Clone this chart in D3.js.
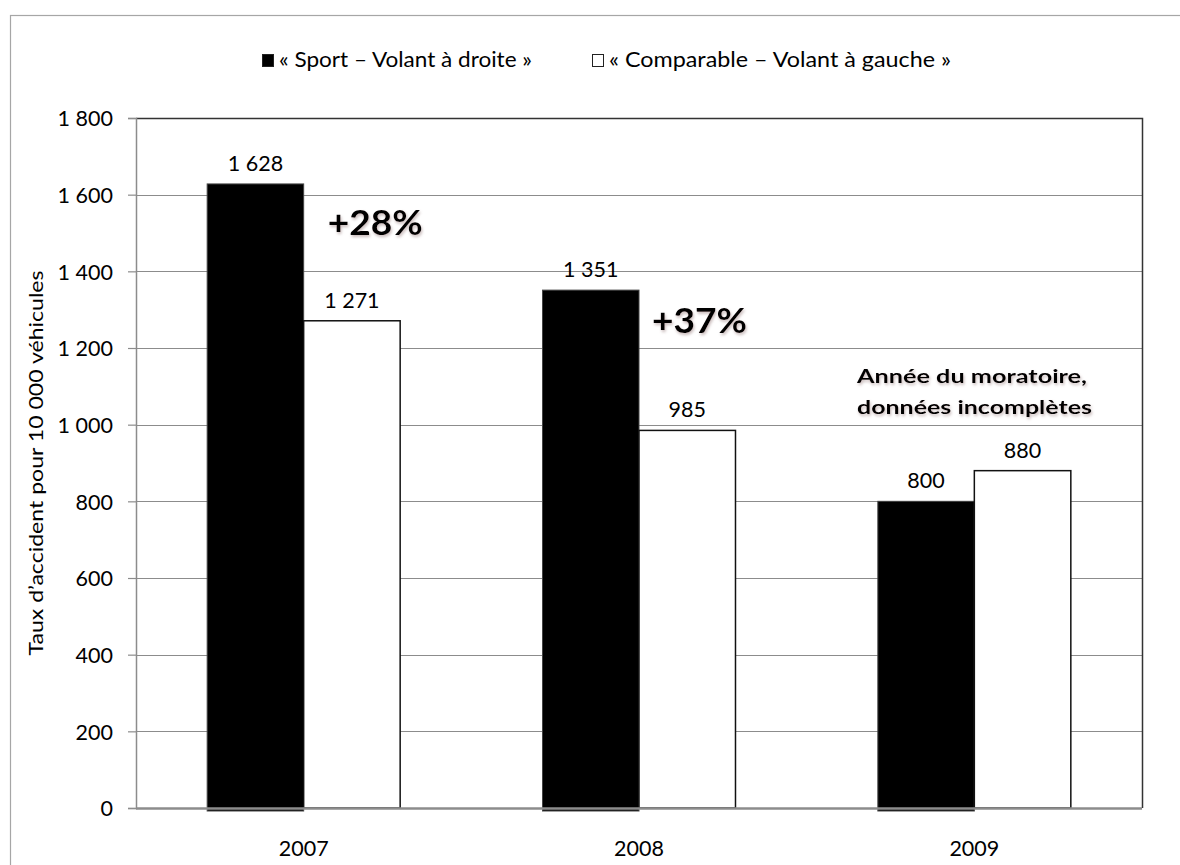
<!DOCTYPE html>
<html><head><meta charset="utf-8">
<script src="https://cdn.jsdelivr.net/npm/d3@7"></script>
<style>
body{margin:0;background:#fff;}
text{font-family:Lato,"Open Sans",sans-serif;fill:#000;}
</style></head>
<body>
<svg id="chart" width="1180" height="865"></svg>
<script>
const categories = ["2007","2008","2009"];
const seriesNames = ["« Sport – Volant à droite »","« Comparable – Volant à gauche »"];
const sportValues = [1628, 1351, 800];
const comparableValues = [1271, 985, 880];
const yTicks = [0,200,400,600,800,1000,1200,1400,1600,1800];
const annotationTexts = ["+28%", "+37%", "Année du moratoire,", "données incomplètes"];

(function(){
const svg = d3.select("#chart");
const fr = d3.formatLocale({decimal:",", thousands:"\u00a0", grouping:[3], currency:["","€"]});
const fmt = fr.format(",d");

const pL=136, pR=1142, pT=118, pB=808;
const x0 = d3.scaleBand().domain(categories).range([pL,pR]).paddingInner(0.4245).paddingOuter(0.21225);
const x1 = d3.scaleBand().domain([0,1]).range([0,x0.bandwidth()]);
const y = d3.scaleLinear().domain([0,1800]).range([pB,pT]);

const defs = svg.append("defs");
const f = defs.append("filter").attr("id","glow").attr("x","-20%").attr("y","-40%").attr("width","140%").attr("height","180%");
f.append("feGaussianBlur").attr("in","SourceAlpha").attr("stdDeviation",1.8).attr("result","b");
f.append("feOffset").attr("in","b").attr("dx",1).attr("dy",2).attr("result","o");
f.append("feFlood").attr("flood-color","#9a8080").attr("result","c");
f.append("feComposite").attr("in","c").attr("in2","o").attr("operator","in").attr("result","o1");
f.append("feComponentTransfer").attr("in","o1").attr("result","o2")
  .append("feFuncA").attr("type","linear").attr("slope",0.55);
const m = f.append("feMerge");
m.append("feMergeNode").attr("in","o2");
m.append("feMergeNode").attr("in","SourceGraphic");

// outer chart border
svg.append("rect").attr("x",10.5).attr("y",15.5).attr("width",1200).attr("height",900)
  .attr("fill","none").attr("stroke","#a6a6a6").attr("stroke-width",1.2);

// gridlines
svg.append("g").selectAll("line").data(yTicks.filter(d=>d>0 && d<1800)).join("line")
  .attr("x1",pL).attr("x2",pR).attr("y1",d=>Math.round(y(d))+0.5).attr("y2",d=>Math.round(y(d))+0.5)
  .attr("stroke","#8c8c8c").attr("stroke-width",1.2);

// plot frame top & right
svg.append("path").attr("d",`M${pL},${pT+0.5}H${pR+0.5}V${pB}`)
  .attr("fill","none").attr("stroke","#333").attr("stroke-width",1.5);

// y axis
const yAxis = d3.axisLeft(y).tickValues(yTicks).tickFormat(fmt).tickSize(8).tickPadding(15);
const ga = svg.append("g").attr("transform",`translate(${pL},0)`).call(yAxis);
ga.select(".domain").attr("stroke","#8c8c8c").attr("stroke-width",1.5);
ga.selectAll(".tick line").attr("stroke","#8c8c8c").attr("stroke-width",1.2);
ga.selectAll(".tick text").attr("font-size",21.5).attr("dy","0.36em")
  .style("font-family","Lato,sans-serif").attr("fill","#000");

// bars
const data = categories.map((c,i)=>({cat:c, vals:[sportValues[i], comparableValues[i]]}));
const groups = svg.append("g").selectAll("g").data(data).join("g")
  .attr("transform",d=>`translate(${x0(d.cat)},0)`);
groups.selectAll("rect").data(d=>d.vals.map((v,k)=>({v,k}))).join("rect")
  .attr("x",d=>x1(d.k)).attr("width",x1.bandwidth())
  .attr("y",d=>y(d.v)).attr("height",d=>y(0)-y(d.v)+(d.k===0?3:0))
  .attr("fill",d=>d.k===0?"#000":"#fff")
  .attr("stroke",d=>d.k===0?"#444":"#111").attr("stroke-width",d=>d.k===0?1:1.5);
groups.selectAll("text").data(d=>d.vals.map((v,k)=>({v,k}))).join("text")
  .attr("x",d=>x1(d.k)+x1.bandwidth()/2).attr("y",d=>y(d.v)-13)
  .attr("text-anchor","middle").attr("font-size",21.5).text(d=>fmt(d.v));

// x baseline & labels
svg.append("line").attr("x1",pL).attr("x2",pR).attr("y1",pB+0.5).attr("y2",pB+0.5)
  .attr("stroke","#8c8c8c").attr("stroke-width",2.5);
svg.append("g").selectAll("text").data(categories).join("text")
  .attr("x",d=>x0(d)+x0.bandwidth()/2).attr("y",856).attr("text-anchor","middle")
  .attr("font-size",21.5).text(d=>d);

// y title
svg.append("text").attr("transform",`translate(43,${(pT+pB)/2}) rotate(-90)`)
  .attr("text-anchor","middle").attr("font-size",20)
  .attr("textLength",385).attr("lengthAdjust","spacingAndGlyphs")
  .text("Taux d’accident pour 10 000 véhicules");

// legend
const lg = svg.append("g");
const legendSq = [262, 592];
const legendLen = [253, 342];
seriesNames.forEach((s,i)=>{
  lg.append("rect").attr("x",legendSq[i]+0.5).attr("y",54.5).attr("width",11).attr("height",12)
    .attr("fill",i===0?"#000":"#fff").attr("stroke","#222").attr("stroke-width",1);
  lg.append("text").attr("x",legendSq[i]+17).attr("y",67).attr("font-size",22)
    .attr("textLength",legendLen[i]).attr("lengthAdjust","spacingAndGlyphs").text(s);
});

// annotations
function note(txt, xPos, yBase, size, len){
  svg.append("text").attr("filter","url(#glow)")
    .attr("font-weight","bold").attr("fill","#1a1a1a")
    .attr("font-size",size).attr("x",xPos).attr("y",yBase)
    .attr("textLength",len).attr("lengthAdjust","spacingAndGlyphs").text(txt);
}
note(annotationTexts[0], x0("2007")+x1.bandwidth()+24, 235, 34, 95);
note(annotationTexts[1], x0("2008")+x1.bandwidth()+13, 333, 34, 95);
note(annotationTexts[2], 857, 383, 19, 230);
note(annotationTexts[3], 857, 414, 19, 235);
})();
</script>
</body></html>
